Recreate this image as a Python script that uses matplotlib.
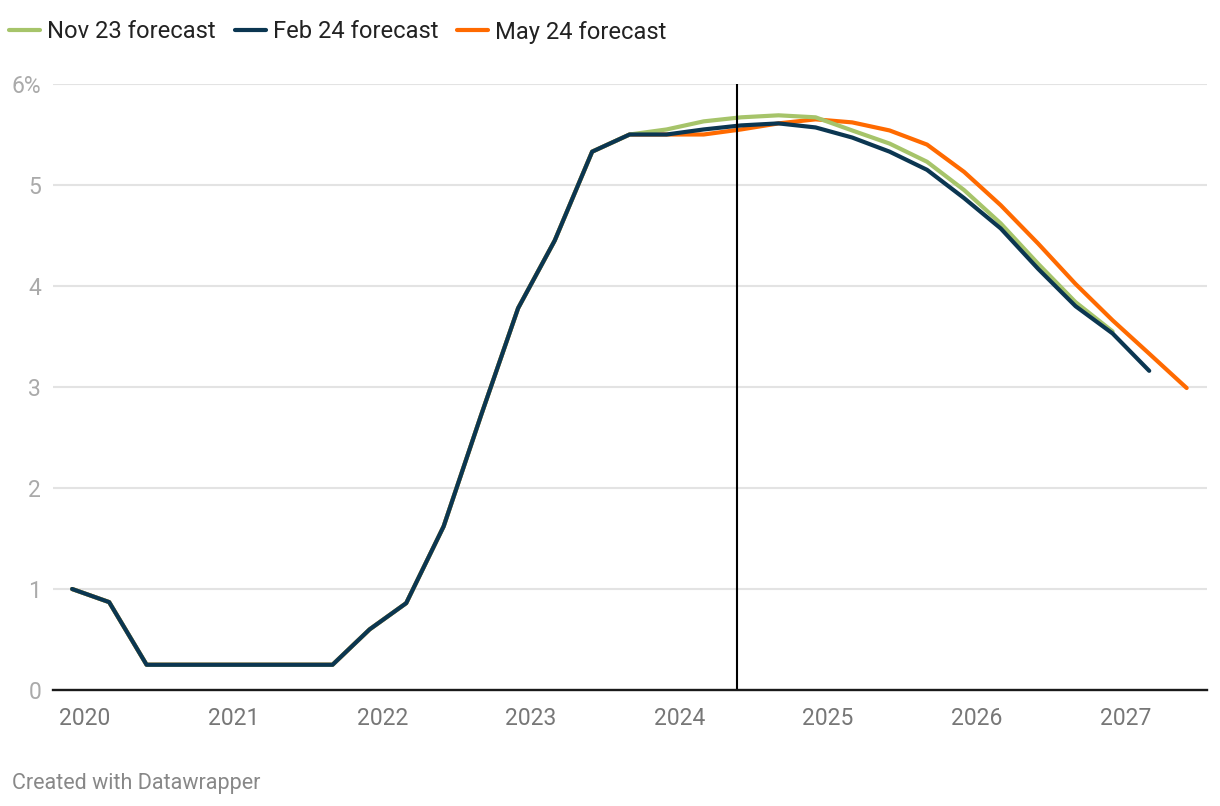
import matplotlib
matplotlib.use("Agg")
import matplotlib.pyplot as plt
import matplotlib.dates as mdates
import pandas as pd

plt.rcParams['font.family'] = ['Roboto', 'DejaVu Sans']

# Quarterly observations, dated on the first day of the quarter's last month
dates = pd.date_range("2019-12-01", periods=31, freq="3MS")

# Shared history, Dec 2019 - Jun 2023 (%)
history = [1.00, 0.87, 0.25, 0.25, 0.25, 0.25, 0.25, 0.25,
           0.60, 0.86, 1.62, 2.72, 3.78, 4.45, 5.33]

# Forecast paths, starting Sep 2023
nov23 = [5.50, 5.55, 5.63, 5.67, 5.69, 5.67, 5.54, 5.41, 5.23, 4.95,
         4.62, 4.22, 3.84, 3.55]
feb24 = [5.50, 5.50, 5.55, 5.59, 5.61, 5.57, 5.47, 5.33, 5.15, 4.87,
         4.57, 4.17, 3.80, 3.53, 3.16]
may24 = [5.50, 5.50, 5.50, 5.55, 5.61, 5.65, 5.62, 5.54, 5.40, 5.13,
         4.80, 4.42, 4.02, 3.66, 3.33, 2.99]

labels = ["Nov 23 forecast", "Feb 24 forecast", "May 24 forecast"]
colors = ["#a6c46a", "#0b3651", "#ff6a00"]
marker_date = pd.Timestamp("2024-05-22")
y_ticks = [0, 1, 2, 3, 4, 5, 6]
y_labels = ["0", "1", "2", "3", "4", "5", "6%"]

fig = plt.figure(figsize=(12.2, 8.06), dpi=100)
ax = fig.add_axes([53 / 1220, 1 - 690 / 806, 1154 / 1220, 606 / 806])

series = [history + nov23, history + feb24, history + may24]
layer = [4, 5, 3]  # navy drawn on top, then green, then orange
lines = []
for idx, vals in enumerate(series):
    ln, = ax.plot(dates[:len(vals)], vals, color=colors[idx], lw=3,
                  solid_capstyle='round', solid_joinstyle='round',
                  label=labels[idx], zorder=layer[idx])
    lines.append(ln)

ax.axvline(marker_date, color='black', lw=1.5, zorder=6)

ax.set_ylim(0, 6)
ax.set_xlim(pd.Timestamp("2019-10-15"), pd.Timestamp("2027-07-21"))
ax.set_yticks(y_ticks)
ax.set_yticklabels(y_labels)
ax.xaxis.set_major_locator(mdates.YearLocator())
ax.xaxis.set_major_formatter(mdates.DateFormatter('%Y'))

ax.grid(axis='y', color='#e3e3e3', lw=1.5, zorder=0)
ax.set_axisbelow(True)
for s in ['top', 'right', 'left']:
    ax.spines[s].set_visible(False)
ax.spines['bottom'].set_color('#1a1a1a')
ax.spines['bottom'].set_linewidth(1.7)
ax.spines['bottom'].set_zorder(7)

ax.tick_params(axis='x', length=0, pad=12, labelsize=16.5, labelcolor='#777777')
ax.tick_params(axis='y', length=0, pad=8.5, labelsize=16.5, labelcolor='#aaaaaa')

fig.legend(handles=lines, labels=labels,
           loc='center left', bbox_to_anchor=(9 / 1220, 1 - 32 / 806),
           ncol=3, frameon=False, fontsize=17.1, labelcolor='#222222',
           handlelength=1.3, handletextpad=0.3, columnspacing=0.8,
           borderpad=0, borderaxespad=0)

fig.text(12 / 1220, 1 - 783 / 806, "Created with Datawrapper",
         fontsize=15.5, color='#888888', va='center', ha='left')

fig.savefig("out.png", dpi=100, facecolor='white')
